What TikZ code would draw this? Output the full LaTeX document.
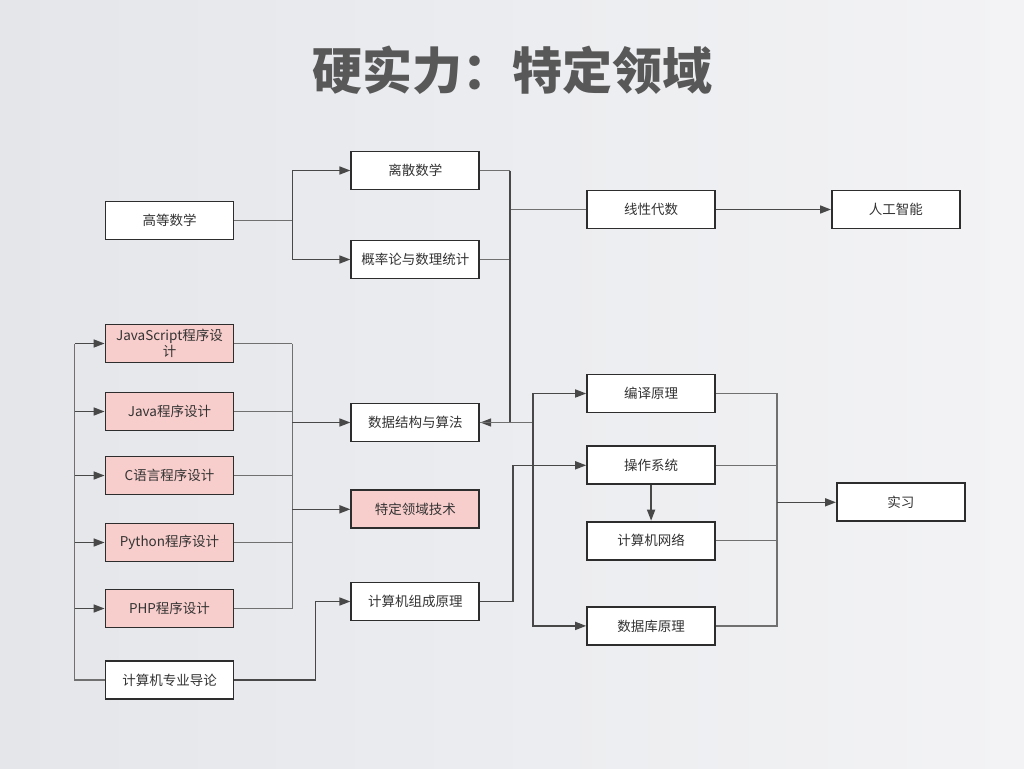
\documentclass[tikz,border=0pt]{standalone}
\usepackage{fontspec}
\setmainfont{Noto Sans CJK SC}
\usetikzlibrary{arrows.meta, positioning}
\definecolor{bgleft}{RGB}{228, 230, 234}
\definecolor{bgright}{RGB}{243, 243, 245}
\definecolor{titlegray}{RGB}{88, 88, 88}
\definecolor{boxline}{RGB}{45, 45, 45}
\definecolor{boxtext}{RGB}{51, 51, 51}
\definecolor{skillpink}{RGB}{248, 206, 204}
\definecolor{linkgray}{RGB}{112, 112, 112}
\definecolor{arrowgray}{RGB}{72, 72, 72}
\tikzset{
    course/.style={rectangle, draw=boxline, fill=white, text=boxtext, line width=1.8pt, minimum width=128pt, minimum height=38pt, inner sep=2pt, align=center, font=\fontsize{13.5}{16}\selectfont},
    skill/.style={course, fill=skillpink},
    link/.style={linkgray, line width=1.6pt},
    arrow/.style={arrowgray, line width=1.6pt, -{Triangle[length=11pt, width=8pt]}}
}
\begin{document}
\begin{tikzpicture}[x=1pt, y=-1pt, node distance=26pt and 115pt]
            \shade [left color=bgleft, right color=bgright] (0,0) rectangle (1024,768);
            \useasboundingbox (0,0) rectangle (1024,768);
            \node (title) [text=titlegray, font=\fontsize{50}{56}\selectfont\bfseries] at (512,70) {硬实力：特定领域};

            \node (gaoshu) [course] at (169.5,220.5) {高等数学};
            \node (lisan) [course, right=116pt of gaoshu, yshift=50pt] {离散数学};
            \node (gailv) [course, right=116pt of gaoshu, yshift=-39pt] {概率论与数理统计};
            \node (xiandai) [course, right=106pt of lisan, yshift=-39pt] {线性代数};
            \node (ai) [course, right=115pt of xiandai] {人工智能};

            \node (js) [skill] at (169.5,343.5) {JavaScript程序设\\计};
            \node (java) [skill, below=28.2pt of js] {Java程序设计};
            \node (clang) [skill, below=24.2pt of java] {C语言程序设计};
            \node (python) [skill, below=27.2pt of clang] {Python程序设计};
            \node (php) [skill, below=26.2pt of python] {PHP程序设计};
            \node (daolun) [course, below=31.7pt of php] {计算机专业导论};

            \node (shuju) [course, right=116pt of java, yshift=-11pt] {数据结构与算法};
            \node (tech) [skill, below=47pt of shuju] {特定领域技术};
            \node (zucheng) [course, right=116pt of php, yshift=7pt] {计算机组成原理};

            \node (bianyi) [course, right=106pt of shuju, yshift=29pt] {编译原理};
            \node (caozuo) [course, below=32pt of bianyi] {操作系统};
            \node (wangluo) [course, below=35.5pt of caozuo] {计算机网络};
            \node (shujuku) [course, below=45.5pt of wangluo] {数据库原理};
            \node (shixi) [course, right=120pt of caozuo, yshift=-37pt] {实习};

            \draw [link] (gaoshu.east) -- ++(58,0) coordinate (forkA);
            \draw [arrow] (forkA) |- (lisan.west);
            \draw [arrow] (forkA) |- (gailv.west);

            \coordinate (mergeA) at ([xshift=30pt]lisan.east);
            \draw [link] (lisan.east) -- (mergeA);
            \draw [link] (gailv.east) -- (gailv.east -| mergeA);
            \draw [link] (xiandai.west) -- (xiandai.west -| mergeA);
            \draw [arrow] (mergeA) |- (shuju.east);
            \draw [arrow] (xiandai) -- (ai);

            \coordinate (forkB) at ([xshift=53pt]shuju.east);
            \draw [link] (shuju.east) -- (forkB);
            \draw [arrow] (forkB) |- (bianyi.west);
            \draw [arrow] (forkB) |- (shujuku.west);

            \draw [arrow] (zucheng.east) -- ++(33,0) |- (caozuo.west);
            \draw [arrow] (caozuo) -- (wangluo);

            \coordinate (mergeC) at ([xshift=61pt]bianyi.east);
            \draw [link] (bianyi.east) -- (mergeC) -- (mergeC |- shujuku.east) -- (shujuku.east);
            \draw [link] (caozuo.east) -- (caozuo.east -| mergeC);
            \draw [link] (wangluo.east) -- (wangluo.east -| mergeC);
            \draw [arrow] (mergeC |- shixi.west) -- (shixi.west);

            \coordinate (mergeL) at ([xshift=-30pt]daolun.west);
            \draw [link] (daolun.west) -- (mergeL) -- (mergeL |- js.west);
            \foreach \n in {js, java, clang, python, php}
                \draw [arrow] (mergeL |- \n.west) -- (\n.west);

            \coordinate (mergeP) at ([xshift=58pt]js.east);
            \foreach \n in {js, java, clang, python, php}
                \draw [link] (\n.east) -- (\n.east -| mergeP);
            \draw [link] (mergeP) -- (mergeP |- php.east);
            \draw [arrow] (mergeP |- shuju.west) -- (shuju.west);
            \draw [arrow] (mergeP |- tech.west) -- (tech.west);

            \draw [arrow] (daolun.east) -- ++(81,0) |- (zucheng.west);
        \end{tikzpicture}
\end{document}
